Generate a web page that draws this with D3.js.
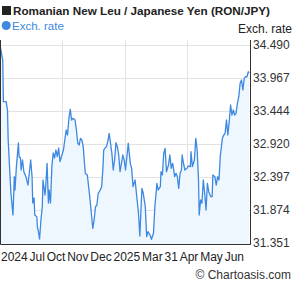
<!DOCTYPE html>
<html>
<head>
<meta charset="utf-8">
<script src="https://cdn.jsdelivr.net/npm/d3@7"></script>
<style>
    body { margin: 0; background: #fff; }
    text { font-family: "Liberation Sans", Arial, sans-serif; }
</style>
</head>
<body>
<div id="chartContainer"></div>
<script>
var titleText = 'Romanian New Leu / Japanese Yen (RON/JPY)';
var seriesName = 'Exch. rate';
var startDate = new Date(2024, 5, 13);

// days after startDate
var dayOffsets = [0, 4, 5, 9, 11, 12, 14, 16, 19, 21, 22, 24, 27, 28, 30, 31, 33, 35, 38, 41,
    45, 47, 48, 50, 51, 54, 55, 56, 58, 60, 62, 63, 66, 67, 69, 71, 72, 74, 76, 78,
    80, 82, 84, 86, 88, 90, 93, 95, 97, 99, 101, 103, 105, 107, 110, 112, 114, 116, 118, 120,
    122, 125, 128, 131, 133, 136, 138, 140, 142, 144, 147, 149, 151, 152, 154, 156, 158, 160, 162, 164,
    166, 168, 170, 172, 174, 176, 178, 180, 182, 184, 186, 188, 191, 193, 195, 198, 200, 203, 205, 208,
    210, 213, 215, 217, 220, 222, 225, 227, 230, 232, 235, 236, 238, 240, 242, 244, 247, 249, 251, 253,
    254, 256, 258, 260, 262, 264, 266, 267, 269, 271, 274, 276, 279, 280, 282, 285, 287, 289, 291, 292,
    294, 296, 298, 300, 302, 304, 306, 309, 311, 312, 315, 317, 319, 321, 323, 324, 326, 328, 330, 332,
    334, 336, 338, 340, 342, 344, 346, 348, 350, 352, 354, 356, 358, 360, 362, 364, 365];

var rates = [34.490, 34.252, 33.591, 33.591, 33.459, 32.984, 32.561, 32.144, 31.795, 32.402, 32.191, 32.561, 32.936, 32.719, 32.699, 32.508, 32.667, 32.481, 32.402, 32.270,
    32.667, 32.402, 31.985, 32.064, 31.795, 31.768, 31.589, 31.557, 31.414, 31.716, 31.926, 32.350, 32.112, 32.244, 32.614, 31.985, 32.191, 31.985, 32.561, 32.778,
    32.699, 32.825, 32.719, 32.857, 32.640, 32.719, 32.825, 32.984, 33.142, 33.063, 33.328, 33.471, 33.301, 33.328, 33.301, 33.142, 32.932, 32.905, 33.011, 32.984,
    32.878, 32.456, 32.429, 32.139, 31.926, 31.584, 31.716, 31.926, 31.953, 32.139, 32.191, 32.244, 32.561, 32.825, 32.857, 32.878, 32.957, 33.090, 32.932, 32.773,
    32.508, 32.667, 32.941, 32.878, 32.746, 32.481, 32.614, 32.746, 32.667, 32.508, 32.719, 32.932, 32.614, 32.535, 32.244, 32.350, 32.139, 31.822, 31.462, 32.218,
    32.139, 31.926, 31.451, 31.530, 31.478, 31.410, 31.505, 31.926, 32.297, 32.191, 32.244, 32.481, 32.429, 32.773, 32.852, 32.481, 32.588, 32.746, 32.535, 32.614,
    32.561, 32.402, 32.456, 32.402, 32.218, 32.456, 32.508, 32.746, 32.614, 32.508, 32.535, 32.572, 32.561, 32.798, 32.561, 32.667, 33.011, 32.825, 32.350, 31.795,
    32.033, 31.980, 32.350, 32.139, 31.874, 32.297, 32.164, 32.085, 32.085, 32.429, 32.402, 32.270, 32.402, 32.350, 32.746, 32.825, 33.011, 33.063, 33.090, 33.301,
    33.063, 33.274, 33.539, 33.380, 33.459, 33.380, 33.407, 33.566, 33.670, 33.883, 33.935, 33.777, 33.962, 33.987, 33.987, 34.067, 34.041];

var yTicks = [31.351, 31.874, 32.397, 32.920, 33.444, 33.967, 34.490];
var xLabels = ['2024', 'Jul', 'Oct', 'Nov', 'Dec', '2025', 'Mar', '31', 'Apr', 'May', 'Jun'];
var copyrightText = '\u00a9 Chartoasis.com';

var width = 295;
var height = 288;

var plotLeft = 0;
var plotRight = 250;
var plotTop = 45;
var plotBottom = 243;
var frameTop = 40;
var frameBottom = 245;

var lineColor = '#3d88e0';
var fillColor = '#eef6fe';
var gridColor = '#e3e3e3';
var textColor = '#333';

var svg = d3.select('#chartContainer').append('svg')
    .attr('width', width)
    .attr('height', height);

var data = dayOffsets.map(function (d, i) {
    return {date: d3.timeDay.offset(startDate, d), value: rates[i]};
});

var x = d3.scaleTime()
    .domain([startDate, d3.timeDay.offset(startDate, 365)])
    .range([plotLeft, plotRight - 1]);

var y = d3.scaleLinear()
    .domain([yTicks[0], yTicks[yTicks.length - 1]])
    .range([plotBottom, plotTop]);

// Grid
var quarterDates = [1, 2, 3].map(function (q) {
    return d3.timeDay.offset(startDate, Math.round(365 * q / 4));
});

svg.append('g').selectAll('line')
    .data(quarterDates)
    .enter().append('line')
    .attr('x1', function (d) { return Math.round(x(d)) + 0.5; })
    .attr('x2', function (d) { return Math.round(x(d)) + 0.5; })
    .attr('y1', frameTop)
    .attr('y2', frameBottom)
    .attr('stroke', gridColor);

svg.append('g').selectAll('line')
    .data(yTicks)
    .enter().append('line')
    .attr('x1', plotLeft)
    .attr('x2', plotRight)
    .attr('y1', function (d) { return Math.round(y(d)) + 0.5; })
    .attr('y2', function (d) { return Math.round(y(d)) + 0.5; })
    .attr('stroke', gridColor);

// Area + line
var area = d3.area()
    .x(function (d) { return x(d.date); })
    .y0(frameBottom)
    .y1(function (d) { return y(d.value); });

var line = d3.line()
    .x(function (d) { return x(d.date); })
    .y(function (d) { return y(d.value); });

svg.append('path')
    .datum(data)
    .attr('d', area)
    .attr('fill', fillColor);

svg.append('path')
    .datum(data)
    .attr('d', line)
    .attr('fill', 'none')
    .attr('stroke', lineColor)
    .attr('stroke-width', 1.3)
    .attr('stroke-linejoin', 'round');

// Frame
svg.append('path')
    .attr('d', 'M' + (plotLeft + 0.5) + ',' + frameTop + 'V' + (frameBottom - 0.5) + 'H' + (plotRight + 0.5) + 'V' + frameTop)
    .attr('fill', 'none')
    .attr('stroke', '#333')
    .attr('stroke-width', 1);

// Right axis
var yAxis = d3.axisRight(y)
    .tickValues(yTicks)
    .tickFormat(d3.format('.3f'))
    .tickSize(0)
    .tickPadding(3);

var yAxisGroup = svg.append('g')
    .attr('transform', 'translate(' + plotRight + ',0)')
    .call(yAxis);

yAxisGroup.select('.domain').remove();
yAxisGroup.selectAll('text')
    .attr('font-family', '"Liberation Sans", Arial, sans-serif')
    .attr('font-size', '12px')
    .attr('fill', textColor);

// Bottom labels, packed from left to right
var labelGroup = svg.append('g');
var labelNodes = labelGroup.selectAll('text')
    .data(xLabels)
    .enter().append('text')
    .attr('y', 261)
    .attr('font-size', '12px')
    .attr('fill', '#222')
    .text(function (d) { return d; });

var labelWidths = [];
labelNodes.each(function () { labelWidths.push(this.getComputedTextLength()); });
var totalWidth = d3.sum(labelWidths);
var gap = (243 - totalWidth) / (xLabels.length - 1);
var cursor = 1;
labelNodes.attr('x', function (d, i) {
    var pos = cursor;
    cursor += labelWidths[i] + gap;
    return pos;
});

// Title and legend
svg.append('rect')
    .attr('x', 2).attr('y', 6)
    .attr('width', 9).attr('height', 9)
    .attr('fill', '#222');

svg.append('text')
    .attr('x', 13).attr('y', 15)
    .attr('font-size', '11.7px')
    .attr('font-weight', 'bold')
    .attr('fill', '#222')
    .text(titleText);

svg.append('circle')
    .attr('cx', 6.2).attr('cy', 25.5)
    .attr('r', 4.5)
    .attr('fill', lineColor);

svg.append('text')
    .attr('x', 12).attr('y', 29.5)
    .attr('font-size', '11.5px')
    .attr('fill', lineColor)
    .text(seriesName);

svg.append('text')
    .attr('x', 292).attr('y', 33)
    .attr('text-anchor', 'end')
    .attr('font-size', '12px')
    .attr('fill', '#222')
    .text(seriesName);

svg.append('text')
    .attr('x', 291).attr('y', 279)
    .attr('text-anchor', 'end')
    .attr('font-size', '12px')
    .attr('fill', textColor)
    .text(copyrightText);
</script>
</body>
</html>
